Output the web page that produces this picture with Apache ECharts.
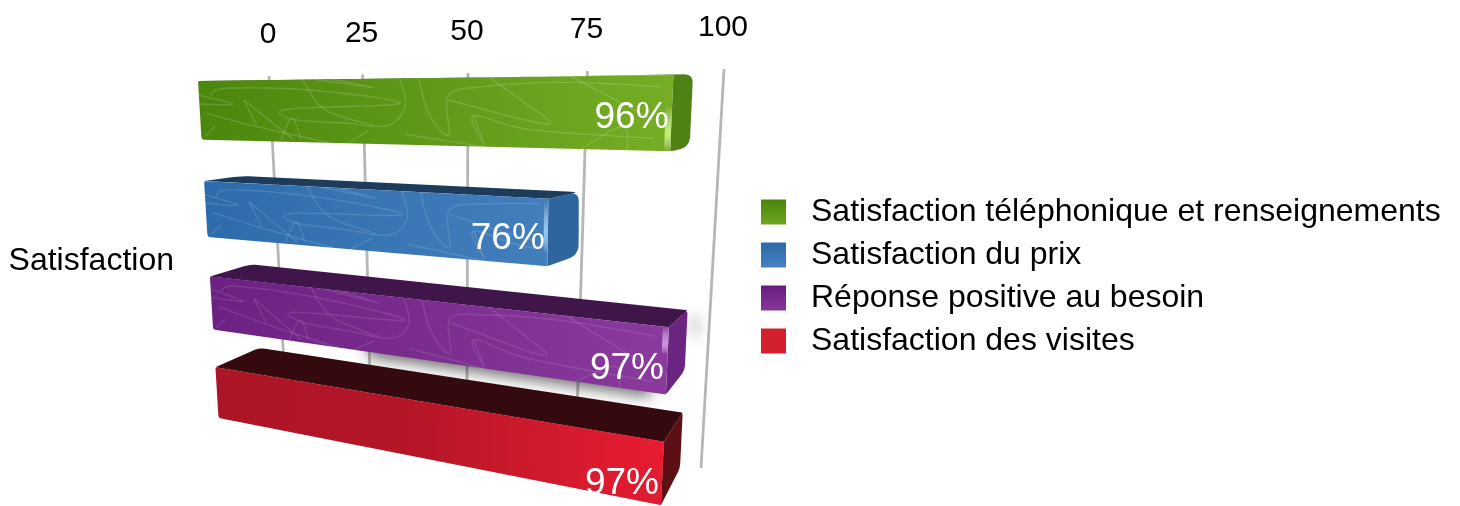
<!DOCTYPE html>
<html><head><meta charset="utf-8">
<style>html,body{margin:0;padding:0;background:#fff}#c{width:1460px;height:506px}</style>
<script src="https://cdn.jsdelivr.net/npm/echarts@6/dist/echarts.min.js"></script>
</head><body><div id="c"></div>
<script>
const categories = ['Satisfaction'];
const seriesNames = ['Satisfaction téléphonique et renseignements','Satisfaction du prix','Réponse positive au besoin','Satisfaction des visites'];
const seriesValues = [96, 76, 97, 97];
const tickValues = [0, 25, 50, 75, 100];

const FONT = '"Liberation Sans", Arial, Helvetica, sans-serif';
const palettes = [
  {front:['#4b870d','#76ad25'], top:'#3a6a0a', side:'#4f8114', glow:'rgba(200,245,120,0.95)', glowAt:[0.4,1], legend:['#4a850c','#6fa71f'], swirl:0.15, round:9},
  {front:['#2e6bab','#437fbd'], top:'#1d3b5b', side:'#2f659e', glow:'rgba(150,210,250,0.9)', glowAt:[0.05,0.8], legend:['#2e68a8','#4582c0'], swirl:0.12, round:9},
  {front:['#6c2182','#8b3a9e'], top:'#40164a', side:'#6a2581', glow:'rgba(215,150,240,0.9)', glowAt:[0,0.4], legend:['#651d7d','#87379b'], swirl:0.11, round:4},
  {front:['#ab1526','#c1182a'], top:'#340a0f', side:'#5e0e15', glow:'rgba(240,28,50,0.85)', glowAt:[0,0.55], legend:['#d1202b','#d1202b'], swirl:0, round:3}
];
// squiggle texture of the bar faces, in percent of length / height of a face
const swirls = [
  [[3,26],[7,13],[28,16],[49,37],[23,47],[24,63],[36,68],[46,71],[50,42],[49,0]],
  [[0,24],[9,39],[0,39]], [[12,32],[15,74]], [[12,32],[16,53],[24,95]],
  [[2,55],[15,76],[33,100]], [[21,97],[24,61],[26,95]],
  [[53,0],[55,53],[59,84],[59,26],[66,13],[81,8],[99,16]],
  [[59,32],[78,66],[73,32],[67,0]], [[82,0],[96,58]],
  [[64,55],[66,95],[64,55],[75,74],[99,84]], [[50,84],[66,100]],
  [[30,0],[43,13],[34,0]], [[27,0],[32,47],[43,71]], [[1,95],[4,76]],
  [[84,100],[91,68],[92,100]], [[37,100],[42,79]]
];

// Perspective planes: front of the bars, back of the bars, rear wall
const FULL = 0.97, BAND = 0.58;
const frontPlane = {c:[[198,81],[680,75],[218.5,418],[661,505]], w:[1,0.75,1.09,0.84]};
const backPlane  = {c:[[232,82],[699,74],[264,394],[680,468]],   w:[1,0.80,1.11,0.945]};
const wallPlane  = {c:[[269,76],[724,69],[285,386],[701,468]],   w:[1,0.777,1,0.777]};
function project(p, t, u) {
  const b = [(1-t)*(1-u), t*(1-u), (1-t)*u, t*u];
  let x = 0, y = 0, s = 0;
  for (let i = 0; i < 4; i++) { const k = b[i]*p.w[i]; x += k*p.c[i][0]; y += k*p.c[i][1]; s += k; }
  return [x/s, y/s];
}
const bandU = (i, f) => (i + f*BAND) / (3 + BAND);
function rounded(pts, radii) {
  const out = [];
  pts.forEach((p, i) => {
    const r = radii[i];
    if (!r) { out.push(p); return; }
    const a = pts[(i+pts.length-1)%pts.length], c = pts[(i+1)%pts.length];
    const da = Math.hypot(a[0]-p[0],a[1]-p[1]), dc = Math.hypot(c[0]-p[0],c[1]-p[1]);
    const s = [p[0]+(a[0]-p[0])*r/da, p[1]+(a[1]-p[1])*r/da], e = [p[0]+(c[0]-p[0])*r/dc, p[1]+(c[1]-p[1])*r/dc];
    for (let k = 0; k <= 6; k++) { const q = k/6;
      out.push([(1-q)*(1-q)*s[0]+2*q*(1-q)*p[0]+q*q*e[0], (1-q)*(1-q)*s[1]+2*q*(1-q)*p[1]+q*q*e[1]]); }
  });
  return out;
}
function swirlLines(i, T, opacity) {
  const out = [];
  swirls.forEach(line => {
    const pts = [];
    let stop = false;
    for (let k = 0; k < line.length-1 && !stop; k++) {
      const p0 = line[Math.max(k-1,0)], p1 = line[k], p2 = line[k+1], p3 = line[Math.min(k+2,line.length-1)];
      for (let j = 0; j <= 12; j++) {
        const q = j/12;
        const cr = d => 0.5*(2*p1[d]+(p2[d]-p0[d])*q+(2*p0[d]-5*p1[d]+4*p2[d]-p3[d])*q*q+(3*p1[d]-p0[d]-3*p2[d]+p3[d])*q*q*q);
        const tt = Math.max(0, cr(0)/100), ff = Math.min(1, Math.max(0, cr(1)/100));
        if (tt > T*0.985) { stop = true; break; }
        pts.push(project(frontPlane, tt, bandU(i, ff)));
      }
    }
    if (pts.length > 1) out.push({type:'polyline', silent:true, shape:{points:pts},
      style:{fill:'none', stroke:'rgba(255,255,255,'+opacity+')', lineWidth:1.4}});
  });
  return out;
}
function barRenderer(i) {
  return function (params, api) {
    const cs = params.coordSys, value = api.value(0);
    const T = (api.coord([value, categories[0]])[0] - cs.x) / cs.width / FULL;
    const pal = palettes[i];
    const F = (t, f) => project(frontPlane, t, bandU(i, f));
    const B = (t, f) => project(backPlane, t, bandU(i, f));
    const r = pal.round;
    const children = [];
    if (i === 2) {
      // soft shadows cast on the rear wall, thrown from shapes hidden behind the bar
      children.push({type:'polygon', shape:{points:[F(0.4,0.5),F(T*0.97,0.5),F(T*0.97,0.96),F(0.4,0.96)]},
        style:{fill:'#444', shadowColor:'rgba(0,0,0,0.55)', shadowBlur:14, shadowOffsetX:2, shadowOffsetY:8}});
      children.push({type:'polygon', shape:{points:[B(T*0.99,0.06),B(T*0.995,0.06),B(T*0.995,0.4),B(T*0.99,0.4)]},
        style:{fill:'#444', shadowColor:'rgba(0,0,0,0.7)', shadowBlur:14, shadowOffsetX:12, shadowOffsetY:2}});
    }
    children.push({type:'polygon', shape:{points:rounded([F(0,0),B(0,0),B(T,0),F(T,0)],[0,r+3,r-2,0])}, style:{fill:pal.top}});
    children.push({type:'polygon', shape:{points:rounded([F(T,0),B(T,0),B(T,1),F(T,1)],[0,r,r+2,2])}, style:{fill:pal.side}});
    const face = rounded([F(0,0),F(T,0),F(T,1),F(0,1)],[2,0,0,3]);
    children.push({type:'polygon', shape:{points:face},
      style:{fill:{type:'linear',x:0,y:0,x2:1,y2:0,colorStops:[{offset:0,color:pal.front[0]},{offset:1,color:pal.front[1]}]}}});
    if (i === 3) {
      const c = F(T, 0.12);
      children.push({type:'polygon', shape:{points:face},
        style:{fill:{type:'radial',global:true,x:c[0],y:c[1],r:250,colorStops:[{offset:0,color:pal.glow},{offset:1,color:'rgba(230,30,50,0)'}]}}});
    } else {
      const g0 = pal.glowAt[0], g1 = pal.glowAt[1];
      children.push({type:'polygon', shape:{points:[F(T*0.99,g0),F(T,g0),F(T,g1),F(T*0.99,g1)]},
        style:{fill:{type:'linear',x:0,y:0,x2:0,y2:1,colorStops:[{offset:0,color:'rgba(255,255,255,0)'},{offset:0.6,color:pal.glow},{offset:1,color:'rgba(255,255,255,0)'}]}}});
    }
    if (pal.swirl) children.push(...swirlLines(i, T, pal.swirl));
    const a = F(T, 0.55 + 0.035*i);
    children.push({type:'text', style:{text:value+'%', x:a[0]-3, y:a[1], align:'right', verticalAlign:'middle', fill:'#fff', font:'37px '+FONT}});
    return {type:'group', children};
  };
}
function wallRenderer(params, api) {
  const cs = params.coordSys;
  const t = (api.coord([api.value(0), categories[0]])[0] - cs.x) / cs.width;
  const top = project(wallPlane, t, 0), bot = project(wallPlane, t, 1);
  return {type:'group', children:[
    {type:'line', shape:{x1:top[0],y1:top[1],x2:bot[0],y2:bot[1]}, style:{stroke:'#b6b6b6', lineWidth:2.8}},
    {type:'text', style:{text:String(api.value(0)), x:top[0]-1, y:top[1]-41, align:'center', verticalAlign:'middle', fill:'#000', font:'30px '+FONT}}
  ]};
}

const chart = echarts.init(document.getElementById('c'), null, {renderer:'canvas'});
chart.setOption({
  animation:false,
  backgroundColor:'#fff',
  grid:{left:184, top:62, width:500, height:398},
  xAxis:{type:'value', min:0, max:100, interval:25, show:false},
  yAxis:{type:'category', data:categories, axisLine:{show:false}, axisTick:{show:false}, splitLine:{show:false},
    axisLabel:{margin:10, color:'#000', fontSize:32, fontFamily:FONT}},
  legend:{orient:'vertical', left:756, top:190, itemWidth:25, itemHeight:25, itemGap:9, selectedMode:false,
    textStyle:{fontSize:32, fontFamily:FONT, color:'#000', lineHeight:34, padding:[0,0,0,20]},
    data:seriesNames.map((name,i)=>({name, icon:'rect', itemStyle:{color:{type:'linear',x:0,y:0,x2:0,y2:1,
      colorStops:[{offset:0,color:palettes[i].legend[0]},{offset:1,color:palettes[i].legend[1]}]}}}))},
  series:[
    {type:'custom', name:'Axe', silent:true, clip:false, renderItem:wallRenderer, encode:{x:0,y:1},
      data:tickValues.map(v=>[v,categories[0]])},
    ...seriesNames.map((name,i)=>({type:'custom', name, silent:true, clip:false, renderItem:barRenderer(i), encode:{x:0,y:1},
      itemStyle:{color:palettes[i].front[1]}, data:[[seriesValues[i],categories[0]]]}))
  ]
});
</script></body></html>
